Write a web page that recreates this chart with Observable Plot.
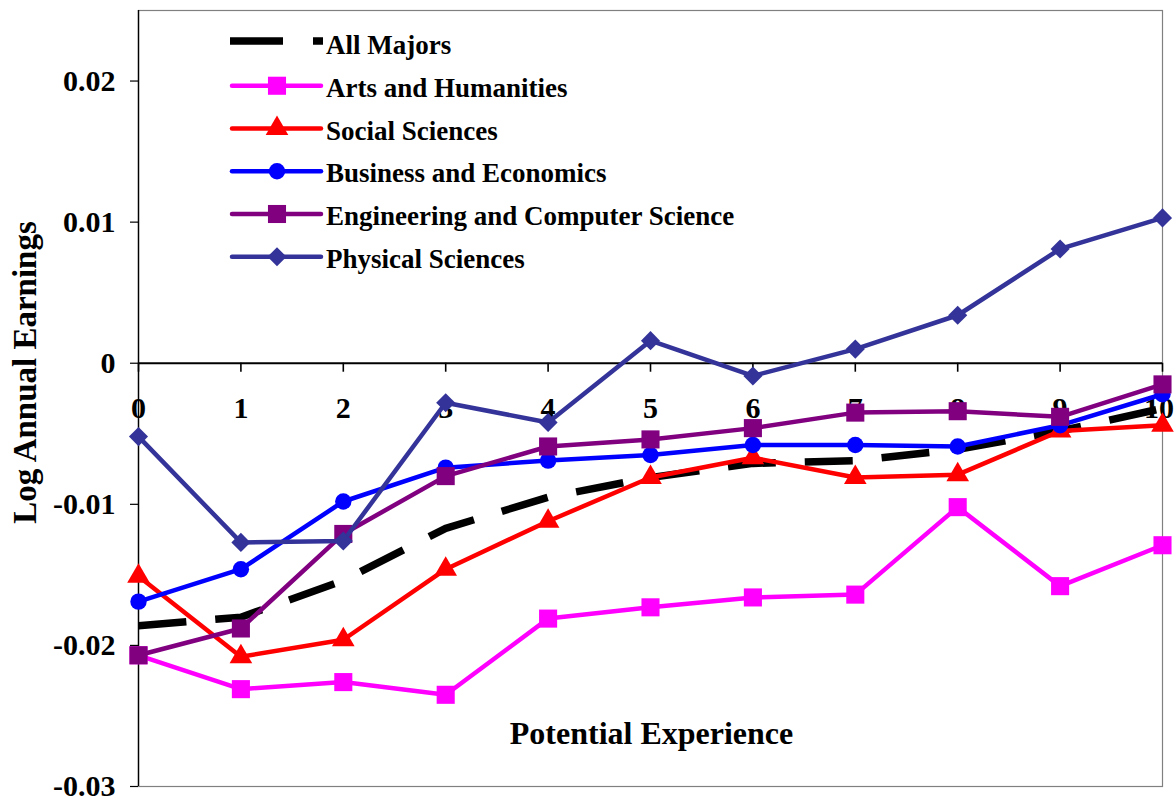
<!DOCTYPE html>
<html><head><meta charset="utf-8">
<script src="https://cdn.jsdelivr.net/npm/d3@7"></script>
<script src="https://cdn.jsdelivr.net/npm/@observablehq/plot@0.6"></script>
<style>
html,body{margin:0;padding:0;background:#fff;}
#wrap{position:relative;width:1175px;height:802px;}
</style></head><body><div id="wrap"></div>
<script>
// ---- data ----
const experience = [0, 1, 2, 3, 4, 5, 6, 7, 8, 9, 10];
const xTickLabels = ["0", "1", "2", "3", "4", "5", "6", "7", "8", "9", "10"];
const yTicks = [-0.03, -0.02, -0.01, 0, 0.01, 0.02];
const yTickLabels = ["-0.03", "-0.02", "-0.01", "0", "0.01", "0.02"];

const seriesNames = ["All Majors", "Arts and Humanities", "Social Sciences",
  "Business and Economics", "Engineering and Computer Science", "Physical Sciences"];
const allMajors   = [-0.0186, -0.0180, -0.0154, -0.0117, -0.0095, -0.0081, -0.0071, -0.0069, -0.0061, -0.0048, -0.0032];
const arts        = [-0.0207, -0.0231, -0.0226, -0.0235, -0.0181, -0.0173, -0.0166, -0.0164, -0.0102, -0.0158, -0.0129];
const social      = [-0.0151, -0.0208, -0.0196, -0.0146, -0.0112, -0.0081, -0.0067, -0.0081, -0.0079, -0.0048, -0.0044];
const business    = [-0.0169, -0.0146, -0.0098, -0.0074, -0.0069, -0.0065, -0.0058, -0.0058, -0.0059, -0.0044, -0.0022];
const engineering = [-0.0207, -0.0188, -0.0121, -0.0080, -0.0059, -0.0054, -0.0046, -0.0035, -0.0034, -0.0038, -0.0015];
const physical    = [-0.0052, -0.0127, -0.0126, -0.0028, -0.0042, 0.0016, -0.0009, 0.0010, 0.0034, 0.0081, 0.0103];

const seriesValues = [allMajors, arts, social, business, engineering, physical];
const seriesColors = ["#000000", "#FF00FF", "#FF0000", "#0000FF", "#800080", "#333399"];
const seriesSymbols = [null, "square", "triangle", "circle", "square", "diamond2"];
const seriesR = [0, 10.2, 8.4, 8.2, 10.2, 8.6];

const xTitle = "Potential Experience";
const yTitle = "Log Annual Earnings";

// ---- build ----
const FONT = "'Liberation Serif', 'Times New Roman', serif";
const series = seriesNames.map((name, s) => experience.map((x, i) => ({series: name, x, y: seriesValues[s][i]})));
const lastIdx = experience.length - 1;
const innerTicks = experience.filter((d, i) => i < lastIdx);
const edgeTick = [experience[lastIdx]];

const marks = [
  Plot.frame({stroke: "#808080", strokeWidth: 1.2}),
  Plot.ruleX([0], {stroke: "black", strokeWidth: 1.4}),
  Plot.ruleY([0], {stroke: "black", strokeWidth: 2}),
  Plot.ruleX(experience, {x: d => d, y1: () => 0, y2: () => 0, insetBottom: -9, stroke: "black", strokeWidth: 1.6}),
  Plot.text(innerTicks, {x: d => d, y: () => 0, dy: 45, text: d => xTickLabels[experience.indexOf(d)], fill: "black", fontSize: 30}),
  Plot.text(edgeTick, {x: d => d, y: () => 0, dy: 45, dx: 11.5, textAnchor: "end", text: d => xTickLabels[experience.indexOf(d)], fill: "black", fontSize: 30}),
  Plot.axisY(yTicks, {tickSize: 8, tickPadding: 15, tickFormat: d => yTickLabels[yTicks.indexOf(d)], label: null, stroke: "black", strokeWidth: 1.2, fontSize: 30}),
  Plot.text([yTitle], {frameAnchor: "left", textAnchor: "middle", lineAnchor: "middle", dx: -113, dy: -26, rotate: -90, text: d => d, fill: "black", fontSize: 33}),
  Plot.text([xTitle], {frameAnchor: "bottom", textAnchor: "middle", lineAnchor: "middle", dx: 1, dy: -53, text: d => d, fill: "black", fontSize: 32}),
  // All Majors dashed line
  Plot.line(series[0], {x: "x", y: "y", stroke: seriesColors[0], strokeWidth: 7.5, strokeDasharray: "48,29", strokeLinecap: "butt", strokeLinejoin: "miter"})
];
for (let s = 1; s < seriesNames.length; s++) {
  marks.push(Plot.line(series[s], {x: "x", y: "y", stroke: seriesColors[s], strokeWidth: 4.5}));
  marks.push(Plot.dot(series[s], {x: "x", y: "y", symbol: () => seriesSymbols[s], r: seriesR[s], fill: seriesColors[s], stroke: "none"}));
}

const chart = Plot.plot({
  width: 1175, height: 802,
  marginLeft: 138, marginRight: 13, marginTop: 10, marginBottom: 16,
  x: {domain: [0, 10], axis: null},
  y: {domain: [-0.03, 0.025], axis: null},
  style: {fontFamily: FONT, fontSize: "28px", fontWeight: "bold", color: "black", background: "white"},
  marks
});
const wrap = document.getElementById("wrap");
wrap.appendChild(chart);

// ---- legend overlay ----
const leg = d3.create("svg").attr("width", 1175).attr("height", 300)
  .style("position", "absolute").style("left", "0px").style("top", "0px")
  .style("font-family", FONT).style("font-weight", "bold").style("font-size", "27px");
const symbolMap = {square: d3.symbolSquare, triangle: d3.symbolTriangle, circle: d3.symbolCircle, diamond2: d3.symbolDiamond2};
seriesNames.forEach((name, i) => {
  const cy = 43 + 42.75 * i;
  const g = leg.append("g");
  if (i === 0) {
    g.append("line").attr("x1", 230).attr("x2", 323).attr("y1", cy - 2).attr("y2", cy - 2)
      .attr("stroke", "black").attr("stroke-width", 7.5).attr("stroke-dasharray", "53,30");
  } else {
    g.append("line").attr("x1", 232).attr("x2", 321).attr("y1", cy).attr("y2", cy)
      .attr("stroke", seriesColors[i]).attr("stroke-width", 4.5).attr("stroke-linecap", "round");
    g.append("path").attr("transform", `translate(277,${cy})`)
      .attr("d", d3.symbol(symbolMap[seriesSymbols[i]], Math.PI * seriesR[i] * seriesR[i])())
      .attr("fill", seriesColors[i]);
  }
  g.append("text").attr("x", 326).attr("y", cy + 11).attr("fill", "black").text(name);
});
wrap.appendChild(leg.node());
</script></body></html>
